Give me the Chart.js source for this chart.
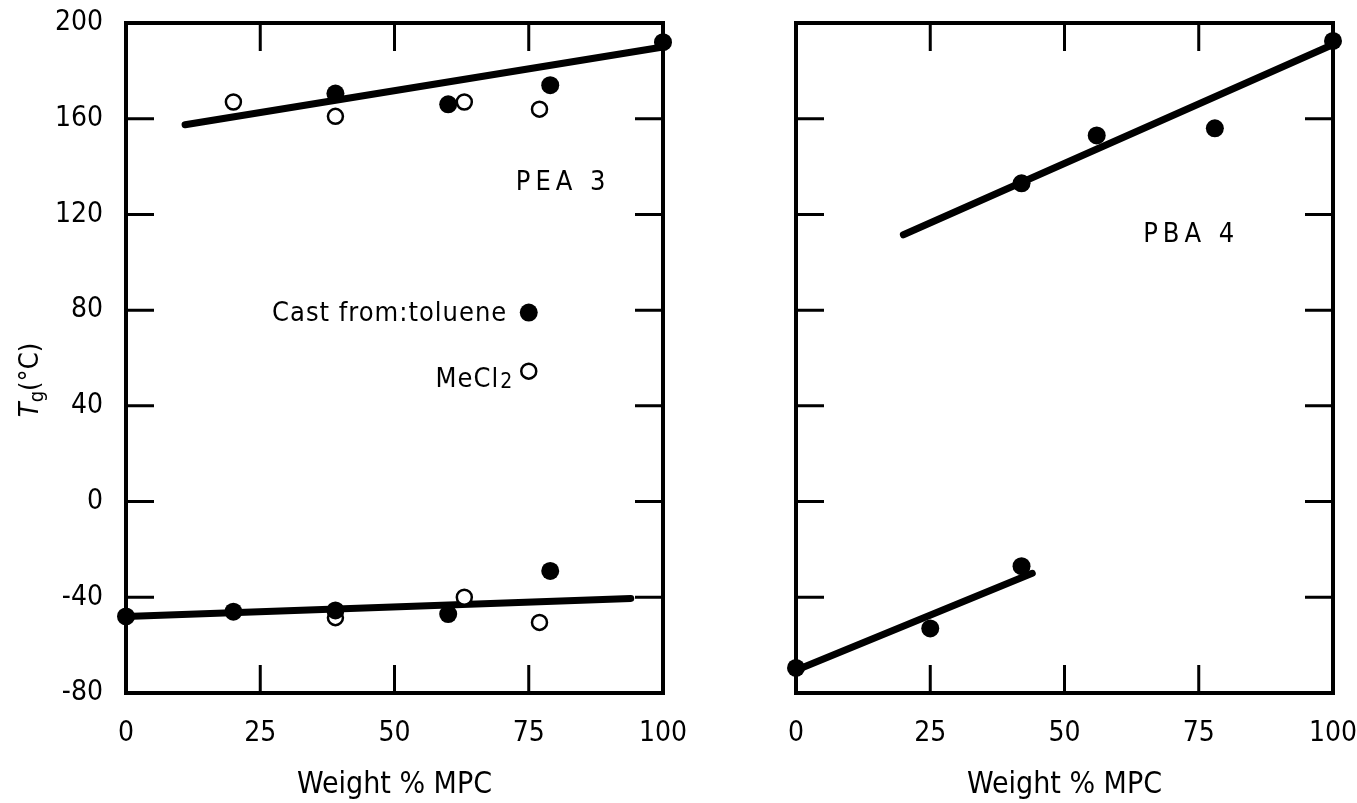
<!DOCTYPE html>
<html>
<head>
<meta charset="utf-8">
<title>Tg vs weight % MPC</title>
<script src="https://cdn.jsdelivr.net/npm/chart.js@4.4.1/dist/chart.umd.min.js"></script>
<style>
  html, body { margin: 0; padding: 0; background: #fff; }
  #wrap { position: relative; width: 1357px; height: 803px; }
  canvas { position: absolute; top: 0; }
  #peaChart { left: 0; }
  #pbaChart { left: 690px; }
</style>
</head>
<body>
<div id="wrap">
  <canvas id="peaChart" width="690" height="803"></canvas>
  <canvas id="pbaChart" width="667" height="803"></canvas>
</div>
<script>
// axis ticks (shared by both panels)
const xTickValues = [0, 25, 50, 75, 100];
const yTickValues = [-80, -40, 0, 40, 80, 120, 160, 200];

// PEA 3 - cast from toluene (filled) and MeCl2 (open)
const peaTolueneX = [0, 20, 39, 60, 79, 39, 60, 79, 100];
const peaTolueneY = [-48, -46, -45.5, -47, -29, 170.5, 166, 174, 192];
const peaMeCl2X = [39, 63, 77, 20, 39, 63, 77];
const peaMeCl2Y = [-48.5, -40, -50.5, 167, 161, 167, 164];
const peaFitLowX = [0, 94];
const peaFitLowY = [-48, -40.5];
const peaFitHighX = [11, 100];
const peaFitHighY = [157.5, 190];

// PBA 4 - toluene only
const pbaTolueneX = [0, 25, 42, 42, 56, 78, 100];
const pbaTolueneY = [-69.5, -53, -27, 133, 153, 156, 192.5];
const pbaFitLowX = [0, 44];
const pbaFitLowY = [-70.5, -30];
const pbaFitHighX = [20, 100];
const pbaFitHighY = [111.5, 191];

const FONT = '"DejaVu Sans Condensed", "Liberation Sans Narrow", "DejaVu Sans", sans-serif';
const TICK_LEN = 28;
const FILLED_R = 9;
const OPEN_R = 7.5;

function pts(xs, ys) {
    return xs.map((x, i) => ({ x: x, y: ys[i] }));
}

function filledSet(xs, ys) {
    return {
        type: 'scatter', data: pts(xs, ys), order: 0, clip: false,
        pointRadius: FILLED_R, pointHoverRadius: FILLED_R,
        backgroundColor: '#000', borderColor: '#000', borderWidth: 0
    };
}

function openSet(xs, ys) {
    return {
        type: 'scatter', data: pts(xs, ys), order: 1, clip: false,
        pointRadius: OPEN_R, pointHoverRadius: OPEN_R,
        backgroundColor: '#fff', borderColor: '#000', borderWidth: 2.5
    };
}

function fitSet(xs, ys) {
    return {
        type: 'line', data: pts(xs, ys), order: 2, clip: false,
        borderColor: '#000', borderWidth: 7, borderCapStyle: 'round',
        pointRadius: 0, tension: 0, fill: false
    };
}

// frame and inward ticks on all four sides
const framePlugin = {
    id: 'frame',
    beforeDatasetsDraw(chart) {
        const { ctx, chartArea: a, scales: { x, y } } = chart;
        ctx.save();
        ctx.strokeStyle = '#000';
        ctx.lineWidth = 3;
        ctx.beginPath();
        x.ticks.forEach(t => {
            if (t.value <= x.min || t.value >= x.max) return;
            const px = x.getPixelForValue(t.value);
            ctx.moveTo(px, a.bottom); ctx.lineTo(px, a.bottom - TICK_LEN);
            ctx.moveTo(px, a.top); ctx.lineTo(px, a.top + TICK_LEN);
        });
        y.ticks.forEach(t => {
            if (t.value <= y.min || t.value >= y.max) return;
            const py = y.getPixelForValue(t.value);
            ctx.moveTo(a.left, py); ctx.lineTo(a.left + TICK_LEN, py);
            ctx.moveTo(a.right, py); ctx.lineTo(a.right - TICK_LEN, py);
        });
        ctx.stroke();
        ctx.lineWidth = 4;
        ctx.strokeRect(a.left, a.top, a.right - a.left, a.bottom - a.top);
        ctx.restore();
    }
};

// text notes placed in data coordinates
const notesPlugin = {
    id: 'notes',
    afterDatasetsDraw(chart, args, opts) {
        const { ctx, scales: { x, y } } = chart;
        ctx.save();
        ctx.fillStyle = '#000';
        ctx.textBaseline = 'middle';
        (opts.items || []).forEach(n => {
            const px = x.getPixelForValue(n.x);
            const py = y.getPixelForValue(n.y);
            ctx.font = (n.size || 27) + 'px ' + FONT;
            ctx.letterSpacing = (n.spacing || 0) + 'px';
            ctx.textAlign = n.align || 'center';
            ctx.fillText(n.text, px, py);
            if (n.sub) {
                ctx.font = '21px ' + FONT;
                ctx.textAlign = 'left';
                ctx.fillText(n.sub, px + 1, py + 3);
            }
        });
        ctx.letterSpacing = '0px';
        (opts.marks || []).forEach(m => {
            const px = x.getPixelForValue(m.x);
            const py = y.getPixelForValue(m.y);
            ctx.beginPath();
            if (m.filled) {
                ctx.arc(px, py, FILLED_R, 0, Math.PI * 2);
                ctx.fill();
            } else {
                ctx.arc(px, py, OPEN_R, 0, Math.PI * 2);
                ctx.fillStyle = '#fff';
                ctx.fill();
                ctx.lineWidth = 2.5;
                ctx.strokeStyle = '#000';
                ctx.stroke();
                ctx.fillStyle = '#000';
            }
        });
        ctx.restore();
    }
};

// y axis title: italic T with subscript g
const yTitlePlugin = {
    id: 'ytitle',
    afterDraw(chart) {
        const ctx = chart.ctx;
        ctx.save();
        ctx.translate(38, 380);
        ctx.rotate(-Math.PI / 2);
        ctx.fillStyle = '#000';
        ctx.textBaseline = 'alphabetic';
        ctx.textAlign = 'left';
        const parts = [
            { t: 'T', f: 'italic 27px ' + FONT, dy: 0 },
            { t: 'g', f: '20px ' + FONT, dy: 5 },
            { t: '(°C)', f: '27px ' + FONT, dy: 0 }
        ];
        let total = 0;
        parts.forEach(p => { ctx.font = p.f; total += ctx.measureText(p.t).width; });
        let cx = -total / 2;
        parts.forEach(p => {
            ctx.font = p.f;
            ctx.fillText(p.t, cx, p.dy);
            cx += ctx.measureText(p.t).width;
        });
        ctx.restore();
    }
};

function makeOptions(axisWidth, rightPad, showYLabels, notes) {
    return {
        responsive: false,
        animation: false,
        layout: { padding: { top: 23, right: rightPad, left: 0, bottom: 0 } },
        plugins: {
            legend: { display: false },
            tooltip: { enabled: false },
            notes: notes
        },
        scales: {
            x: {
                type: 'linear', min: 0, max: 100,
                afterBuildTicks: s => { s.ticks = xTickValues.map(v => ({ value: v })); },
                afterFit: s => { s.height = 110; s.paddingLeft = 0; s.paddingRight = 0; },
                grid: { display: false, drawTicks: false },
                border: { display: false },
                ticks: { color: '#000', padding: 24, maxRotation: 0, font: { family: FONT, size: 28 } },
                title: {
                    display: true, text: 'Weight % MPC', color: '#000',
                    padding: { top: 0, bottom: 0 }, font: { family: FONT, size: 30 }
                }
            },
            y: {
                type: 'linear', min: -80, max: 200,
                afterBuildTicks: s => { s.ticks = yTickValues.map(v => ({ value: v })); },
                afterFit: s => { s.width = axisWidth; s.paddingTop = 0; s.paddingBottom = 0; },
                grid: { display: false, drawTicks: false },
                border: { display: false },
                ticks: { display: showYLabels, color: '#000', padding: 23, font: { family: FONT, size: 28 } }
            }
        }
    };
}

new Chart(document.getElementById('peaChart'), {
    type: 'scatter',
    data: {
        datasets: [
            filledSet(peaTolueneX, peaTolueneY),
            openSet(peaMeCl2X, peaMeCl2Y),
            fitSet(peaFitLowX, peaFitLowY),
            fitSet(peaFitHighX, peaFitHighY)
        ]
    },
    options: makeOptions(126, 27, true, {
        items: [
            { text: 'PEA 3', x: 81.4, y: 133, spacing: 5 },
            { text: 'Cast from:toluene', x: 71, y: 78.5, align: 'right', spacing: 1 },
            { text: 'MeCl', x: 69.5, y: 51, align: 'right', sub: '2', spacing: 1 }
        ],
        marks: [
            { x: 75, y: 79, filled: true },
            { x: 75, y: 54.5, filled: false }
        ]
    }),
    plugins: [framePlugin, notesPlugin, yTitlePlugin]
});

new Chart(document.getElementById('pbaChart'), {
    type: 'scatter',
    data: {
        datasets: [
            filledSet(pbaTolueneX, pbaTolueneY),
            fitSet(pbaFitLowX, pbaFitLowY),
            fitSet(pbaFitHighX, pbaFitHighY)
        ]
    },
    options: makeOptions(106, 24, false, {
        items: [
            { text: 'PBA 4', x: 73.6, y: 111.5, spacing: 5 }
        ],
        marks: []
    }),
    plugins: [framePlugin, notesPlugin]
});
</script>
</body>
</html>
